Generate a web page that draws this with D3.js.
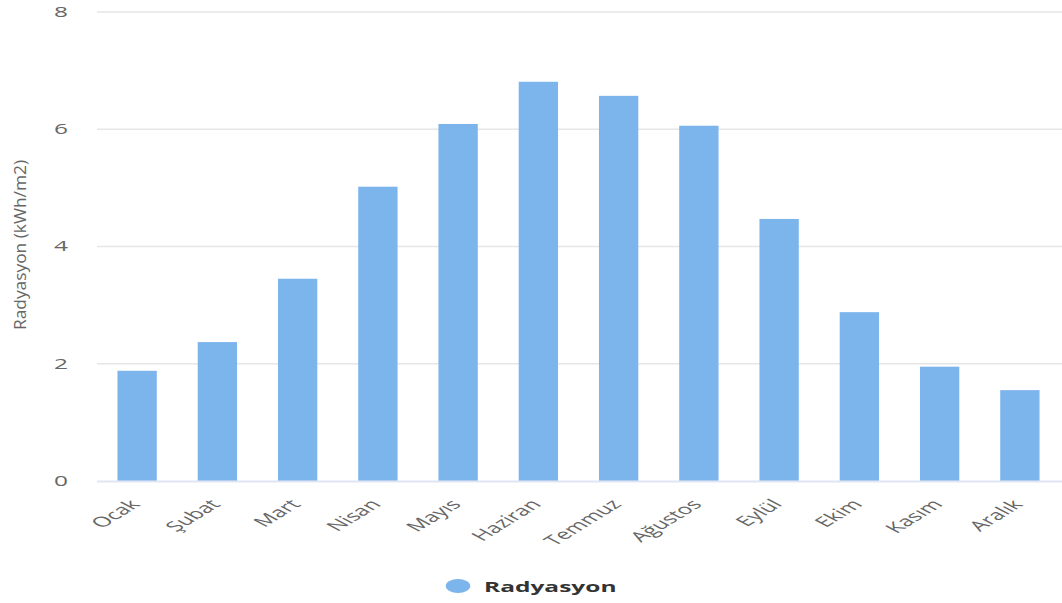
<!DOCTYPE html>
<html>
<head>
<meta charset="utf-8">
<script src="https://d3js.org/d3.v7.min.js"></script>
<style>
  html, body { margin: 0; padding: 0; background: #fff; }
  svg { display: block; }
  text { font-family: "Open Sans", "DejaVu Sans", sans-serif; }
</style>
</head>
<body>
<svg id="chart"></svg>
<script>
// data
const months = ["Ocak", "Şubat", "Mart", "Nisan", "Mayıs", "Haziran",
                "Temmuz", "Ağustos", "Eylül", "Ekim", "Kasım", "Aralık"];
const radiation = [1.88, 2.37, 3.45, 5.02, 6.09, 6.81, 6.57, 6.06, 4.47, 2.88, 1.95, 1.55];
const yTicks = [0, 2, 4, 6, 8];
const seriesName = "Radyasyon";
const yTitle = "Radyasyon (kWh/m2)";

// the reference looks stretched sideways, so draw narrow and stretch
const width = 1062;
const height = 603;
const sx = 1.75;
const innerW = width / sx;

const svg = d3.select("#chart")
    .attr("width", width)
    .attr("height", height)
    .attr("viewBox", [0, 0, innerW, height])
    .attr("preserveAspectRatio", "none");

// scales
const x = d3.scaleBand()
    .domain(months)
    .range([97 / sx, 1060 / sx])
    .paddingInner(0.51)
    .paddingOuter(0.255);

const y = d3.scaleLinear()
    .domain([0, 8])
    .range([481, 12]);

// grid lines
svg.append("g")
  .selectAll("line")
  .data(yTicks.filter(d => d > 0))
  .join("line")
    .attr("x1", 97 / sx)
    .attr("x2", innerW)
    .attr("y1", d => y(d))
    .attr("y2", d => y(d))
    .attr("stroke", "#e6e6e6")
    .attr("stroke-width", 1.5);

// y tick labels
svg.append("g")
  .selectAll("text")
  .data(yTicks)
  .join("text")
    .attr("x", 68 / sx)
    .attr("y", d => y(d) + 5)
    .attr("text-anchor", "end")
    .attr("fill", "#666")
    .attr("font-size", 14)
    .text(d => d);

// bars
svg.append("g")
  .selectAll("rect")
  .data(radiation)
  .join("rect")
    .attr("x", (d, i) => x(months[i]))
    .attr("y", d => y(d))
    .attr("width", x.bandwidth())
    .attr("height", d => y(0) - y(d))
    .attr("fill", "#7cb5ec");

// x axis line
svg.append("line")
    .attr("x1", 97 / sx)
    .attr("x2", innerW)
    .attr("y1", y(0) + 0.5)
    .attr("y2", y(0) + 0.5)
    .attr("stroke", "#dfe5f3")
    .attr("stroke-width", 2);

// x labels, rotated
svg.append("g")
  .selectAll("text")
  .data(months)
  .join("text")
    .attr("transform", d => `translate(${x(d) + x.bandwidth() / 2 + 4 / sx},${y(0) + 24}) rotate(-47)`)
    .attr("text-anchor", "end")
    .attr("fill", "#666")
    .attr("font-size", 14)
    .text(d => d);

// y axis title
svg.append("text")
    .attr("transform", `translate(${26 / sx},245) rotate(-90)`)
    .attr("text-anchor", "middle")
    .attr("fill", "#666")
    .attr("font-size", 9.5)
    .attr("textLength", 170)
    .attr("lengthAdjust", "spacingAndGlyphs")
    .text(yTitle);

// legend
const legend = svg.append("g");
legend.append("circle")
    .attr("cx", 458 / sx)
    .attr("cy", 586)
    .attr("r", 7)
    .attr("fill", "#7cb5ec");
legend.append("text")
    .attr("x", 484 / sx)
    .attr("y", 592)
    .attr("fill", "#333")
    .attr("font-size", 14)
    .attr("font-weight", "bold")
    .text(seriesName);
</script>
</body>
</html>
